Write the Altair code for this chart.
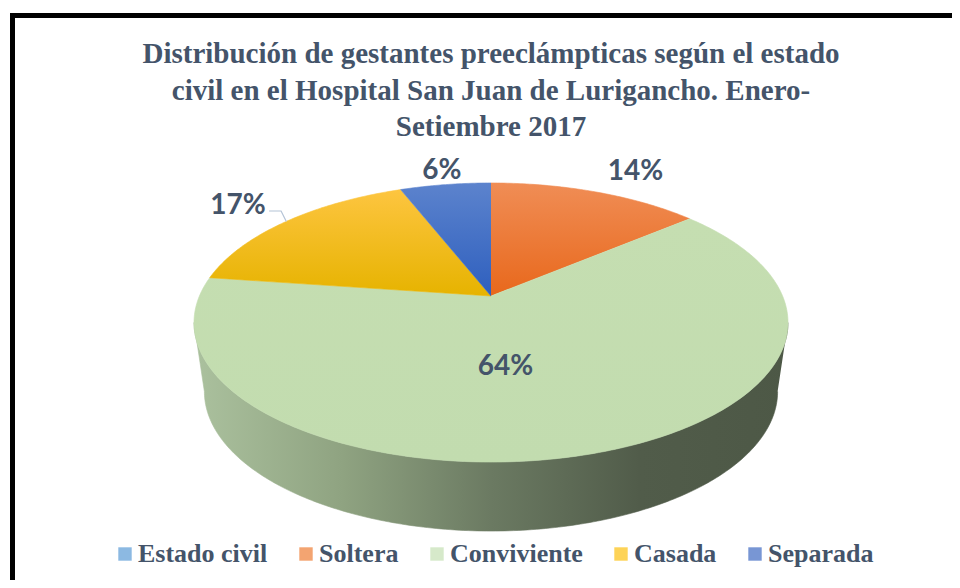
import altair as alt
import numpy as np
import pandas as pd

# ---------------- data ----------------
categories = ["Estado civil", "Soltera", "Conviviente", "Casada", "Separada"]
percentages = [0, 14, 64, 17, 6]
title_lines = [
    "Distribución de gestantes preeclámpticas según el estado",
    "civil en el Hospital San Juan de Lurigancho. Enero-",
    "Setiembre 2017",
]

# ---------------- style ----------------
legend_colors = ["#5b9bd5", "#ee7d35", "#c5dfb4", "#fcc10f", "#3f69c2"]
top_grad = {
    "Estado civil": ["#6aa6dc", "#4a8bcb"],
    "Soltera": ["#f08d55", "#e8681c"],
    "Conviviente": ["#c5deb1", "#c2dcaf"],
    "Casada": ["#fdc540", "#e6b300"],
    "Separada": ["#5c83cd", "#2e5fbe"],
}
side_grad = {
    "Estado civil": ["#4a7cb0", "#26415c"],
    "Soltera": ["#c96a30", "#6e3611"],
    "Conviviente": ["#abc19e", "#8fa381", "#6b7a62", "#515c4a", "#4d5846"],
    "Casada": ["#c99f10", "#6e5500"],
    "Separada": ["#3c5fa8", "#1d3060"],
}
label_r = {"Soltera": 1.25, "Conviviente": 0.45, "Casada": 1.3, "Separada": 1.15}
label_shift = {"Soltera": (18, 1), "Conviviente": (-25, 8), "Casada": (5, 4), "Separada": (2, 0)}
leader = {"Casada"}
TEXT_COL = "#44546a"

# pie geometry (screen pixels)
CX, CY = 491.0, 296.0
SX, SY = 291.6, 134.5
PERSP = 0.19
DEPTH = 69.0
BOTTOM_SCALE = 0.965


def proj(theta_deg, r=1.0):
    t = np.radians(theta_deg)
    u = r * np.sin(t)
    v = r * np.cos(t)
    d = 1 + PERSP * v
    return CX + SX * u / d, CY - SY * v / d


vals = np.array(percentages, dtype=float)
shares = vals / vals.sum()
ends = np.cumsum(shares) * 360.0
starts = ends - shares * 360.0

front_lo = np.degrees(np.arccos(-PERSP))
front_hi = 360.0 - front_lo

top_rows, side_rows, lab_rows, lead_rows = [], [], [], []
for cat, p, s, e in zip(categories, percentages, starts, ends):
    if p <= 0:
        continue
    n = max(3, int((e - s) / 0.75) + 1)
    th = np.linspace(s, e, n)
    xs, ys = proj(th)
    top_rows.append({"cat": cat, "i": 0, "x": CX, "y": CY})
    for k, (x, y) in enumerate(zip(xs, ys)):
        top_rows.append({"cat": cat, "i": k + 1, "x": x, "y": y})
    a, b = max(s, front_lo), min(e, front_hi)
    if b > a:
        m = max(3, int((b - a) / 0.75) + 1)
        th2 = np.linspace(a, b, m)
        x2, y2 = proj(th2)
        pts = list(zip(x2, y2))
        bot = [(CX + (x - CX) * BOTTOM_SCALE, y + DEPTH) for x, y in pts][::-1]
        for k, (x, y) in enumerate(pts + bot):
            side_rows.append({"cat": cat, "i": k, "x": x, "y": y})
    mid = (s + e) / 2
    lx, ly = proj(mid, label_r[cat])
    dx, dy = label_shift[cat]
    lab_rows.append({"cat": cat, "x": lx + dx, "y": ly + dy, "t": f"{p}%"})
    if cat in leader:
        ex, ey = proj(mid, 1.0)
        tx, ty = lx + dx, ly + dy
        for k, (x, y) in enumerate([(tx + 31, ty + 5), (tx + 43, ty + 5), (ex, ey)]):
            lead_rows.append({"cat": cat, "i": k, "x": x, "y": y})

top_df = pd.DataFrame(top_rows)
side_df = pd.DataFrame(side_rows)
lab_df = pd.DataFrame(lab_rows)
lead_df = pd.DataFrame(lead_rows)
leg_df = pd.DataFrame({"cat": categories, "p": percentages})
one = pd.DataFrame({"z": [0]})

W, H = 944, 572
xs_ = alt.Scale(domain=[8, 8 + W], zero=False, nice=False)
ys_ = alt.Scale(domain=[8, 8 + H], zero=False, nice=False, reverse=True)
X = lambda: alt.X("x:Q", scale=xs_, axis=None)
Y = lambda: alt.Y("y:Q", scale=ys_, axis=None)


def grad(cols, horizontal=False):
    n = len(cols)
    stops = [{"offset": k / (n - 1), "color": c} for k, c in enumerate(cols)]
    if horizontal:
        return {"gradient": "linear", "x1": 0, "y1": 0, "x2": 1, "y2": 0, "stops": stops}
    return {"gradient": "linear", "x1": 0, "y1": 0, "x2": 0, "y2": 1, "stops": stops}


layers = []
# side walls
for cat in side_df["cat"].unique() if len(side_df) else []:
    g = grad(side_grad[cat], horizontal=True)
    layers.append(
        alt.Chart(side_df).transform_filter(alt.datum.cat == cat)
        .mark_line(fill=g, stroke=g, strokeWidth=0.6, interpolate="linear")
        .encode(x=X(), y=Y(), order=alt.Order("i:Q"))
    )
# top faces
for cat in top_df["cat"].unique():
    g = grad(top_grad[cat])
    layers.append(
        alt.Chart(top_df).transform_filter(alt.datum.cat == cat)
        .mark_line(fill=g, stroke=g, strokeWidth=0.6, interpolate="linear")
        .encode(x=X(), y=Y(), order=alt.Order("i:Q"))
    )
# leader line
if len(lead_df):
    layers.append(
        alt.Chart(lead_df).mark_line(color="#b4c3d6", strokeWidth=1.2)
        .encode(x=X(), y=Y(), order=alt.Order("i:Q"))
    )
# data labels
layers.append(
    alt.Chart(lab_df).mark_text(
        font="Lato", fontWeight="bold", fontSize=28, color=TEXT_COL,
        align="center", baseline="middle"
    ).encode(x=X(), y=Y(), text="t:N")
)
# title
layers.append(
    alt.Chart(one).mark_text(
        font="Liberation Serif", fontWeight="bold", fontSize=29, color=TEXT_COL,
        align="center", baseline="alphabetic", lineHeight=36.5
    ).encode(x=alt.value(491 - 8), y=alt.value(63 - 8), text=alt.value(title_lines))
)
# legend (symbols clipped away, legend kept)
layers.append(
    alt.Chart(leg_df).mark_square(clip=True, size=10).encode(
        x=alt.value(-200), y=alt.value(-200),
        color=alt.Color(
            "cat:N",
            scale=alt.Scale(domain=categories, range=legend_colors),
            sort=categories,
            legend=alt.Legend(
                orient="none", legendX=104, legendY=533, direction="horizontal",
                title=None, labelFont="Liberation Serif", labelFontWeight="bold",
                labelFontSize=26, labelColor=TEXT_COL, symbolType="square",
                symbolSize=180, symbolStrokeWidth=0, columnPadding=25,
                labelOffset=0, padding=0, labelLimit=0,
            ),
        ),
    )
)
# frame
layers.append(
    alt.Chart(one).mark_rule(color="black", strokeWidth=5).encode(
        x=alt.value(4.5), y=alt.value(5), y2=alt.value(620)
    )
)
layers.append(
    alt.Chart(one).mark_rule(color="black", strokeWidth=5).encode(
        y=alt.value(7.5), x=alt.value(2), x2=alt.value(1000)
    )
)

chart = (
    alt.layer(*layers)
    .properties(width=W, height=H, autosize="none", padding=0, background="white")
    .configure_view(stroke=None)
)
chart.save("out.html", embed_options={"renderer": "svg", "actions": False})
